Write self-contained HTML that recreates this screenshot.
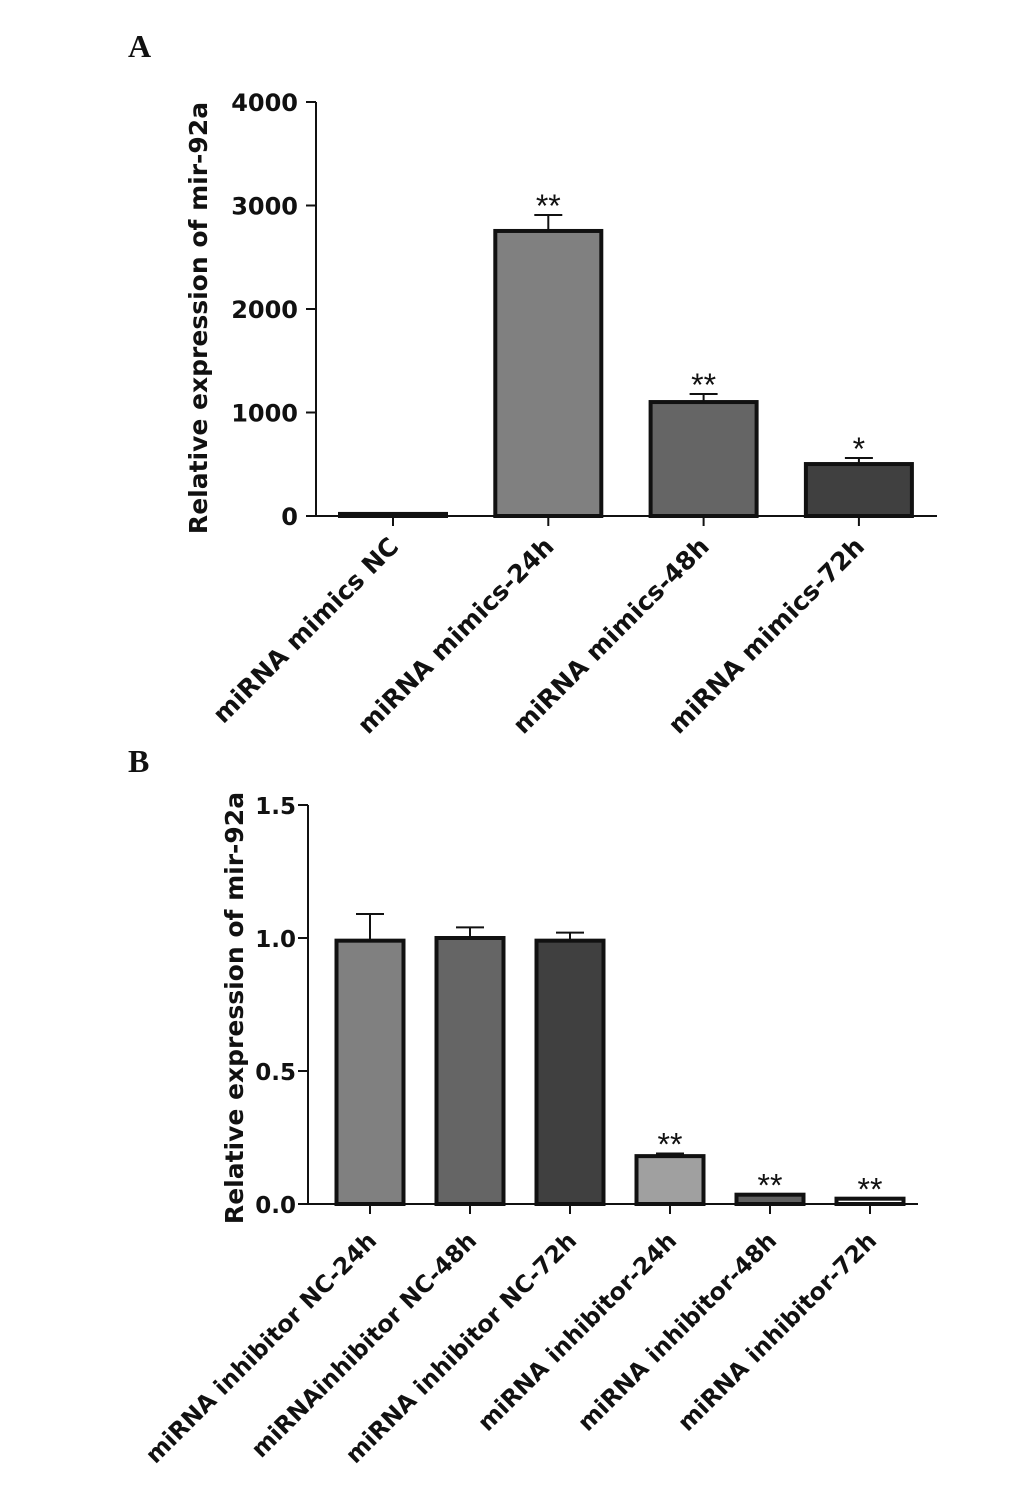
<!DOCTYPE html>
<html><head><meta charset="utf-8"><style>
html,body{margin:0;padding:0;background:#fff}
svg{display:block}
text{font-family:"DejaVu Sans","Liberation Sans",Arial,sans-serif;font-weight:bold;fill:#111}
</style></head><body>
<svg id="c" width="1033" height="1493" xmlns="http://www.w3.org/2000/svg">
<text x="128" y="57" style="font-family:'Liberation Serif',serif;font-size:32px">A</text>
<text x="128" y="772" style="font-family:'Liberation Serif',serif;font-size:32px">B</text>
</svg>
<script>
const catsA=["miRNA mimics NC","miRNA mimics-24h","miRNA mimics-48h","miRNA mimics-72h"];
const valsA=[20,2754,1101,502];
const errA=[0,2908,1179,560];
const sigA=["","**","**","*"];
const ticksA=[0,1000,2000,3000,4000];
const catsB=["miRNA inhibitor NC-24h","miRNAinhibitor NC-48h","miRNA inhibitor NC-72h","miRNA inhibitor-24h","miRNA inhibitor-48h","miRNA inhibitor-72h"];
const valsB=[0.99,1.0,0.99,0.18,0.035,0.02];
const errB=[1.09,1.04,1.02,0.19,0.035,0.02];
const sigB=["","","","**","**","**"];
const ticksB=["0.0","0.5","1.0","1.5"];
const svg=document.getElementById('c');
const NS="http://www.w3.org/2000/svg";
function mk(t,a,p){const e=document.createElementNS(NS,t);for(const k in a)e.setAttribute(k,a[k]);(p||svg).appendChild(e);return e;}
function panel(o){
  const y=v=>o.y0-(v/o.max)*(o.y0-o.ytop);
  const g=mk('g',{});
  
  
  mk('line',{x1:o.ax,y1:o.ytop,x2:o.ax,y2:o.y0,stroke:'#111','stroke-width':2},g);
  mk('line',{x1:o.ax,y1:o.y0,x2:o.xend,y2:o.y0,stroke:'#111','stroke-width':2},g);
  o.ticks.forEach(t=>{const v=parseFloat(t);const yy=y(v);
    mk('line',{x1:o.ax-10,y1:yy,x2:o.ax,y2:yy,stroke:'#111','stroke-width':2},g);
    const tx=mk('text',{x:o.ax-o.toff,y:yy+9,'text-anchor':'end','font-size':o.tfs},g);tx.textContent=t;
    
    
  });
  const yt=mk('text',{x:0,y:0,'text-anchor':'middle','font-size':o.yfs,transform:`translate(${o.ytx},${o.ytc}) rotate(-90)`},g);
  yt.textContent="Relative expression of mir-92a";
  
  
  o.cats.forEach((c,i)=>{
    const cx=o.c0+i*o.step, h=o.bw/2;
    const r=mk('rect',{x:cx-h,y:y(o.vals[i]),width:o.bw,height:Math.max(o.y0-y(o.vals[i]),1),fill:o.colors[i],stroke:'#111','stroke-width':4},g);
    
    
    if(o.err[i]>o.vals[i]){
      mk('line',{x1:cx,y1:y(o.vals[i]),x2:cx,y2:y(o.err[i]),stroke:'#111','stroke-width':2},g);
      mk('line',{x1:cx-14,y1:y(o.err[i]),x2:cx+14,y2:y(o.err[i]),stroke:'#111','stroke-width':2},g);
    }
    mk('line',{x1:cx,y1:o.y0,x2:cx,y2:o.y0+10,stroke:'#111','stroke-width':2},g);
    if(o.sig[i]){const s=mk('text',{x:cx,y:y(Math.max(o.err[i],o.vals[i]))+2,'text-anchor':'middle','font-size':32,style:"font-family:'Liberation Sans',sans-serif;font-weight:normal"},g);s.textContent=o.sig[i];
      
      }
    const l=mk('text',{x:0,y:0,'text-anchor':'end','font-size':o.lfs,transform:`translate(${cx+o.lx},${o.y0+o.ly}) rotate(-45)`},g);
    l.textContent=c;
    
    
  });
}
panel({name:'panel-a-chart',ax:316,ytop:102,y0:516,xend:937,max:4000,ticks:ticksA.map(String),tfs:24,toff:18,yfs:25,lfs:25,ytx:207,ytc:318,lx:7,ly:32,
  cats:catsA,vals:valsA,err:errA,sig:sigA,c0:393,step:155.3,bw:106,colors:['#fff','#808080','#656565','#404040']});
panel({name:'panel-b-chart',ax:308,ytop:805,y0:1204,xend:918,max:1.5,ticks:ticksB,tfs:23,toff:12,yfs:25,lfs:23.5,ytx:243,ytc:1008,lx:8,ly:38,
  cats:catsB,vals:valsB,err:errB,sig:sigB,c0:370,step:100,bw:67,colors:['#808080','#656565','#404040','#a0a0a0','#606060','#fff']});
</script>
</body></html>
